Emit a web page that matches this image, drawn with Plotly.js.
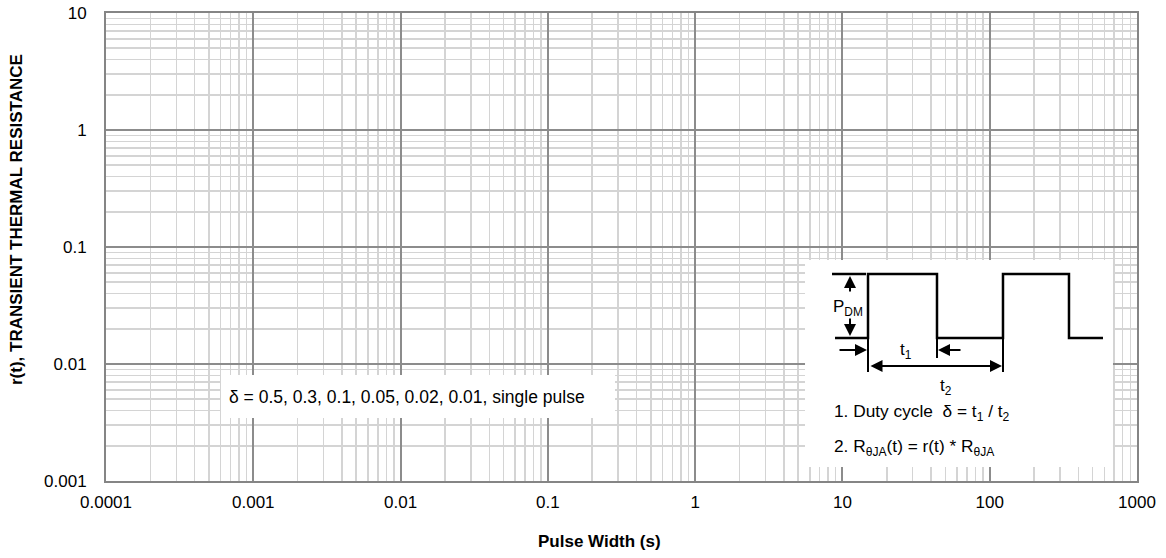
<!DOCTYPE html>
<html>
<head>
<meta charset="utf-8">
<script src="https://cdn.plot.ly/plotly-3.0.1.min.js"></script>
<style>html,body{margin:0;padding:0;background:#fff;}#chart{width:1166px;height:558px;}</style>
</head>
<body>
<div id="chart"></div>
<script>
// Axis ticks
const xTickVals = [0.0001, 0.001, 0.01, 0.1, 1, 10, 100, 1000];
const xTickText = ["0.0001", "0.001", "0.01", "0.1", "1", "10", "100", "1000"];
const yTickVals = [0.001, 0.01, 0.1, 1, 10];
const yTickText = ["0.001", "0.01", "0.1", "1", "10"];

// Text
const xTitle = "Pulse Width (s)";
const yTitle = "r(t), TRANSIENT THERMAL RESISTANCE";
const dutyNote = "δ = 0.5, 0.3, 0.1, 0.05, 0.02, 0.01, single pulse";
const note1 = "1. Duty cycle\u00a0\u00a0δ = t<sub>1</sub> / t<sub>2</sub>";
const note2 = "2. R<sub>θJA</sub>(t) = r(t) * R<sub>θJA</sub>";

// Inset schematic (schematic units)
const waveX = [30, 63, 63, 132, 132, 198, 198, 264, 264, 298];
const waveY = [129, 129, 193, 193, 129, 129, 193, 193, 129, 129];
const topTickX = [27, 61];
const topTickY = [193, 193];
const extX = [63, 63, null, 132, 132, null, 198, 198];
const extY = [129, 95, null, 129, 109, null, 129, 95];

const FONT = "Liberation Sans, Arial, sans-serif";

const traces = [
  {x: [], y: [], type: "scatter", mode: "lines", xaxis: "x", yaxis: "y", showlegend: false, hoverinfo: "skip"},
  {x: waveX, y: waveY, type: "scatter", mode: "lines", xaxis: "x2", yaxis: "y2",
   line: {color: "#000", width: 2.5}, showlegend: false, hoverinfo: "skip"},
  {x: topTickX, y: topTickY, type: "scatter", mode: "lines", xaxis: "x2", yaxis: "y2",
   line: {color: "#000", width: 2.5}, showlegend: false, hoverinfo: "skip"},
  {x: extX, y: extY, type: "scatter", mode: "lines", xaxis: "x2", yaxis: "y2",
   line: {color: "#000", width: 2}, showlegend: false, hoverinfo: "skip", connectgaps: false}
];

function arrow(x, y, ax, ay, side) {
  return {x: x, y: y, ax: ax, ay: ay, xref: "x2", yref: "y2", axref: "x2", ayref: "y2",
    text: "", showarrow: true, arrowhead: 2, arrowsize: 1.2, arrowwidth: 2,
    arrowcolor: "#000", standoff: 0, startstandoff: 0, arrowside: side || "end",
    startarrowhead: 2, startarrowsize: 1.2};
}

const layout = {
  width: 1166, height: 558,
  margin: {l: 106, r: 29, t: 13, b: 77},
  paper_bgcolor: "#fff", plot_bgcolor: "#fff",
  font: {family: FONT, size: 17, color: "#000"},
  xaxis: {
    type: "log", range: [-4, 3],
    tickmode: "array", tickvals: xTickVals, ticktext: xTickText,
    ticks: "", ticklabelstandoff: 5,
    showgrid: true, gridcolor: "#8c8c8c", gridwidth: 2,
    minor: {dtick: "D1", showgrid: true, gridcolor: "#d4d4d4", gridwidth: 1.5, ticks: ""},
    showline: true, linecolor: "#858585", linewidth: 2, mirror: true,
    zeroline: false, tickfont: {family: FONT, size: 17, color: "#000"}
  },
  yaxis: {
    type: "log", range: [-3, 1],
    tickmode: "array", tickvals: yTickVals, ticktext: yTickText,
    ticks: "", ticklabelstandoff: 14,
    showgrid: true, gridcolor: "#8c8c8c", gridwidth: 2,
    minor: {dtick: "D1", showgrid: true, gridcolor: "#d4d4d4", gridwidth: 1.5, ticks: ""},
    showline: true, linecolor: "#858585", linewidth: 2, mirror: true,
    zeroline: false, tickfont: {family: FONT, size: 17, color: "#000"}
  },
  xaxis2: {domain: [0.678, 0.9767], range: [0, 308], anchor: "y2", visible: false, fixedrange: true},
  yaxis2: {domain: [0.0299, 0.4722], range: [0, 207], anchor: "x2", visible: false, fixedrange: true},
  annotations: [
    {xref: "paper", yref: "paper", x: 0.479, y: -0.130, text: "<b>" + xTitle + "</b>",
     showarrow: false, xanchor: "center", yanchor: "middle", font: {family: FONT, size: 17, color: "#000"}},
    {xref: "paper", yref: "paper", x: -0.0863, y: 0.5577, text: "<b>" + yTitle + "</b>", textangle: -90,
     showarrow: false, xanchor: "center", yanchor: "middle", font: {family: FONT, size: 17, color: "#000"}},
    {xref: "paper", yref: "paper", x: 0.1115, y: 0.1816, text: dutyNote,
     showarrow: false, xanchor: "left", yanchor: "middle", align: "left",
     width: 378, height: 27, borderpad: 8, borderwidth: 0, bgcolor: "#fff",
     font: {family: FONT, size: 17.5, color: "#000"}},
    {xref: "x2", yref: "y2", x: 43, y: 159, text: "P<sub>DM</sub>", showarrow: false,
     xanchor: "center", yanchor: "middle", font: {family: FONT, size: 17, color: "#000"}},
    {xref: "x2", yref: "y2", x: 101, y: 116, text: "t<sub>1</sub>", showarrow: false,
     xanchor: "center", yanchor: "middle", font: {family: FONT, size: 17, color: "#000"}},
    {xref: "x2", yref: "y2", x: 141, y: 80, text: "t<sub>2</sub>", showarrow: false,
     xanchor: "center", yanchor: "middle", font: {family: FONT, size: 17, color: "#000"}},
    {xref: "x2", yref: "y2", x: 27, y: 55, text: note1, showarrow: false,
     xanchor: "left", yanchor: "middle", font: {family: FONT, size: 17.3, color: "#000"}},
    {xref: "x2", yref: "y2", x: 27, y: 20, text: note2, showarrow: false,
     xanchor: "left", yanchor: "middle", font: {family: FONT, size: 17.3, color: "#000"}},
    arrow(45, 191, 45, 174),
    arrow(45, 131, 45, 150),
    arrow(62, 117, 33, 117),
    arrow(133, 117, 157, 117),
    arrow(197, 101, 64, 101, "end+start")
  ]
};

Plotly.newPlot("chart", traces, layout, {staticPlot: true, displayModeBar: false});
</script>
</body>
</html>
